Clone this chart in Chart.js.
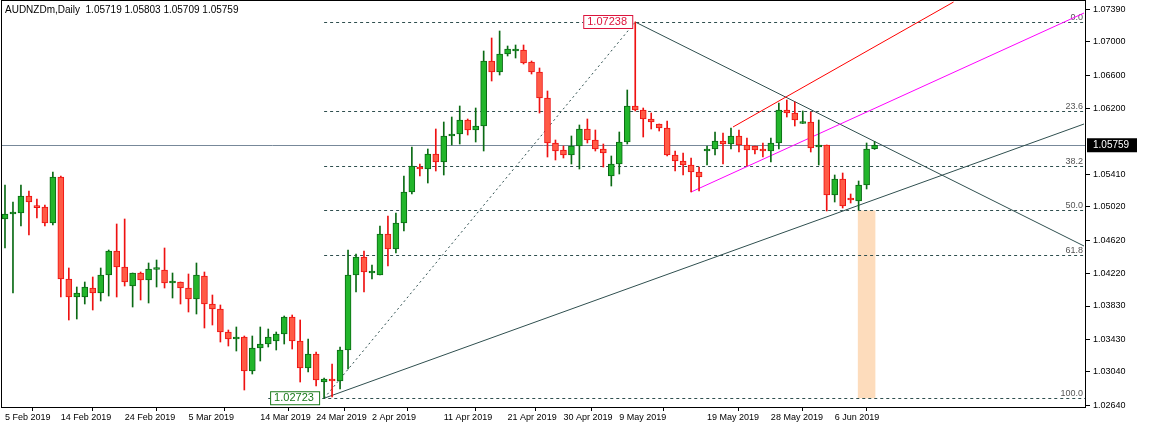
<!DOCTYPE html>
<html><head><meta charset="utf-8">
<script src="https://cdn.jsdelivr.net/npm/chart.js@4"></script>
<style>html,body{margin:0;padding:0;background:#fff}#wrap{width:1157px;height:430px}</style>
</head><body><div id="wrap"><canvas id="c"></canvas></div>
<script>
// OHLC per daily bar
const opens=[1.04874,1.04934,1.04946,1.0515,1.05018,1.05018,1.04826,1.05378,1.04154,1.03938,1.03938,1.04046,1.03986,1.04202,1.0449,1.04298,1.0407,1.04226,1.04142,1.04268,1.04262,1.04106,1.04118,1.04046,1.03914,1.0419,1.03854,1.03794,1.03518,1.03434,1.03458,1.0305,1.03326,1.03374,1.0341,1.03494,1.03698,1.0341,1.03086,1.03254,1.02918,1.02954,1.0293,1.03302,1.04202,1.04418,1.04226,1.04202,1.04694,1.04514,1.04826,1.05198,1.05498,1.05474,1.05654,1.05558,1.0587,1.05894,1.06062,1.05942,1.0599,1.0677,1.06638,1.06854,1.0689,1.06902,1.06758,1.06638,1.06326,1.05786,1.05702,1.05642,1.0575,1.05954,1.05822,1.05714,1.0539,1.05534,1.05798,1.0623,1.06182,1.06074,1.06014,1.05966,1.05642,1.0557,1.05522,1.05438,1.0569,1.05714,1.0581,1.05774,1.0587,1.05762,1.0575,1.05696,1.0569,1.05786,1.06182,1.06146,1.0602,1.06038,1.05738,1.05762,1.05162,1.05354,1.05108,1.0509,1.05282,1.05719];
const highs=[1.05282,1.05078,1.05282,1.0521,1.05114,1.05042,1.05438,1.0539,1.04286,1.04058,1.04118,1.04178,1.04286,1.04502,1.04814,1.04874,1.04226,1.04238,1.04346,1.04382,1.04526,1.04226,1.04118,1.04214,1.04346,1.04238,1.03962,1.03842,1.03542,1.03578,1.0347,1.0347,1.03578,1.03554,1.03518,1.0371,1.03722,1.03662,1.03434,1.03278,1.02966,1.03134,1.03338,1.04502,1.04454,1.0449,1.04322,1.0479,1.0491,1.04946,1.0539,1.05738,1.05534,1.05714,1.05954,1.06038,1.06098,1.0623,1.06074,1.06206,1.0689,1.07046,1.0713,1.0695,1.06962,1.06962,1.0677,1.06686,1.0641,1.05822,1.0575,1.0587,1.06002,1.06074,1.05942,1.05774,1.0563,1.05918,1.06422,1.07238,1.06206,1.06146,1.06014,1.0605,1.0569,1.05666,1.05606,1.05498,1.0575,1.05918,1.05906,1.05966,1.05942,1.05846,1.0575,1.05786,1.05846,1.06266,1.06302,1.06278,1.0617,1.06158,1.06062,1.05762,1.05402,1.05426,1.05174,1.0533,1.05786,1.05803];
const lows=[1.04526,1.03986,1.0479,1.04682,1.04886,1.0479,1.04802,1.03938,1.03662,1.03674,1.03854,1.03782,1.0389,1.0395,1.03938,1.0407,1.03818,1.03902,1.03866,1.04058,1.04046,1.03926,1.03854,1.03758,1.03734,1.03566,1.03602,1.03398,1.0335,1.0329,1.02822,1.03014,1.0317,1.03338,1.03302,1.03374,1.03314,1.02918,1.03038,1.0287,1.02723,1.02738,1.02834,1.03074,1.03998,1.03998,1.04154,1.04202,1.0431,1.04466,1.0473,1.05174,1.0539,1.05306,1.0545,1.05402,1.05762,1.05774,1.05882,1.05798,1.0569,1.0653,1.06602,1.0683,1.06806,1.06734,1.06614,1.06146,1.05618,1.05582,1.05606,1.05534,1.05474,1.05786,1.0569,1.05498,1.0527,1.05414,1.05774,1.0617,1.05858,1.05954,1.0593,1.0563,1.0545,1.05402,1.05198,1.0521,1.05522,1.05642,1.05534,1.05714,1.05678,1.0551,1.05654,1.05618,1.05558,1.05714,1.06098,1.0599,1.0602,1.05678,1.05522,1.0497,1.05078,1.05006,1.05066,1.04982,1.05234,1.05709];
const closes=[1.04934,1.04958,1.0515,1.05078,1.0501,1.04826,1.05378,1.04154,1.03938,1.03986,1.04058,1.03986,1.04202,1.0449,1.04298,1.04118,1.04226,1.04142,1.04274,1.04274,1.04106,1.04112,1.04046,1.03914,1.04202,1.03854,1.03794,1.03518,1.03434,1.03446,1.0305,1.03326,1.03374,1.03458,1.03494,1.03698,1.0341,1.03086,1.03254,1.02942,1.02954,1.0293,1.03302,1.04202,1.04418,1.04238,1.04238,1.04694,1.04514,1.04826,1.05198,1.0551,1.05474,1.05654,1.05558,1.0587,1.05894,1.06062,1.05942,1.0599,1.0677,1.06638,1.06854,1.06914,1.06896,1.06746,1.06638,1.06326,1.05786,1.0569,1.05642,1.0575,1.05954,1.05822,1.05714,1.05666,1.05534,1.05798,1.0623,1.06182,1.06074,1.06038,1.05966,1.05642,1.0557,1.05522,1.05438,1.05378,1.05714,1.0581,1.05774,1.0587,1.05762,1.05702,1.05702,1.0569,1.05786,1.06182,1.06146,1.06062,1.06026,1.05726,1.05762,1.05162,1.05354,1.0503,1.05102,1.05282,1.05714,1.05759];
const totalSlots=136;
const dateTickBars=[0,7,15,23,32,39,46,55,63,70,77,88,96,104];
const dateTickLabels=["5 Feb 2019","14 Feb 2019","24 Feb 2019","5 Mar 2019","14 Mar 2019","24 Mar 2019","2 Apr 2019","11 Apr 2019","21 Apr 2019","30 Apr 2019","9 May 2019","19 May 2019","28 May 2019","6 Jun 2019"];
const priceTicks=[1.07390,1.07000,1.06600,1.06200,1.05410,1.05020,1.04620,1.04220,1.03830,1.03430,1.03040,1.02640];
const fibHigh=1.07238, fibLow=1.02723, fibLevels=[0,23.6,38.2,50,61.8,100];
const currentPrice=1.05759;
const trendDown=[[79,1.07238],[135.25,1.0455]];
const trendUp=[[40,1.02723],[135.25,1.06014]];
const redChannel=[[91.25,1.05978],[118.9,1.07478]];
const magentaLine=[[86,1.05198],[135.25,1.07346]];
const zoneRect=[106.9,109.1,1.04976,1.02723];

const idx=[...Array(totalSlots).keys()];
const up=i=>closes[i]>=opens[i];
const wicks=idx.map(i=>i<opens.length?[lows[i],highs[i]]:null);
const bodies=idx.map(i=>i<opens.length?[opens[i],closes[i]]:null);
const GF='#22b52b',GB='#0a6a14',RF='#ff5a45',RB='#ee1111';
const F='"Liberation Sans", Arial, sans-serif';

const overlay={id:'ov',
 beforeDatasetsDraw(ch){const c=ch.ctx,x=ch.scales.x,y=ch.scales.y,a=ch.chartArea;
  c.save();c.beginPath();c.rect(a.left,a.top,a.right-a.left,a.bottom-a.top);c.clip();
  c.fillStyle='#fddcbc';const x1=x.getPixelForValue(zoneRect[0]),x2=x.getPixelForValue(zoneRect[1]);
  const y1=y.getPixelForValue(zoneRect[2]),y2=y.getPixelForValue(zoneRect[3]);c.fillRect(x1,y1,x2-x1,y2-y1);
  c.strokeStyle='#2f4f4f';c.lineWidth=1;c.setLineDash([3,3]);c.font='9px '+F;c.fillStyle='#555';c.textAlign='right';
  fibLevels.forEach(l=>{const p=fibHigh-(fibHigh-fibLow)*l/100;const py=Math.round(y.getPixelForValue(p))+0.5;
   c.beginPath();c.moveTo(x.getPixelForValue(l===100?33:40),py);c.lineTo(a.right,py);c.stroke();
   c.fillText(l.toFixed(1),a.right-3,py-3);});
  c.setLineDash([2,3]);c.beginPath();c.moveTo(x.getPixelForValue(40),y.getPixelForValue(fibLow));c.lineTo(x.getPixelForValue(79),y.getPixelForValue(fibHigh));c.stroke();
  c.setLineDash([]);
  c.strokeStyle='#778899';const cy=Math.round(y.getPixelForValue(currentPrice))+0.5;c.beginPath();c.moveTo(a.left,cy);c.lineTo(a.right,cy);c.stroke();
  const ln=(pts,col)=>{c.strokeStyle=col;c.beginPath();c.moveTo(x.getPixelForValue(pts[0][0]),y.getPixelForValue(pts[0][1]));c.lineTo(x.getPixelForValue(pts[1][0]),y.getPixelForValue(pts[1][1]));c.stroke();};
  ln(trendDown,'#2f4f4f');ln(trendUp,'#2f4f4f');ln(redChannel,'#ff0000');ln(magentaLine,'#ff00ff');
  c.restore();},
 afterDatasetsDraw(ch){const c=ch.ctx,x=ch.scales.x,y=ch.scales.y,a=ch.chartArea;c.save();
  c.font='11px '+F;c.textBaseline='middle';
  let px=x.getPixelForValue(79),py=y.getPixelForValue(fibHigh);
  c.fillStyle='#fff';c.fillRect(px-52,py-7,50,14);c.strokeStyle='#dc143c';c.strokeRect(px-51.5,py-6.5,49,13);
  c.fillStyle='#dc143c';c.textAlign='left';c.fillText(fibHigh.toFixed(5),px-48,py);
  px=x.getPixelForValue(40);py=y.getPixelForValue(fibLow);
  c.fillStyle='#fff';c.fillRect(px-54,py-7,50,14);c.strokeStyle='#1a7a1a';c.strokeRect(px-53.5,py-6.5,49,13);
  c.fillStyle='#1a7a1a';c.fillText(fibLow.toFixed(5),px-50,py);
  c.strokeStyle='#000';c.lineWidth=1;c.strokeRect(a.left+0.5,a.top+0.5,a.right-a.left-1,a.bottom-a.top-1);
  c.fillStyle='#000';c.font='10px '+F;c.fillText('AUDNZDm,Daily  1.05719 1.05803 1.05709 1.05759',5,10);
  const cy=y.getPixelForValue(currentPrice);c.fillStyle='#000';c.fillRect(a.right+1,cy-7,50,14);
  c.fillStyle='#fff';c.textAlign='left';c.fillText(currentPrice.toFixed(5),a.right+7,cy);
  c.restore();}};

new Chart(document.getElementById('c'),{type:'bar',
 data:{labels:idx.map(String),datasets:[
  {data:wicks,backgroundColor:idx.map(i=>up(i)?GB:RB),barThickness:1,grouped:false,order:2},
  {data:bodies,backgroundColor:idx.map(i=>up(i)?GF:RF),borderColor:idx.map(i=>up(i)?GB:RB),borderWidth:1,borderSkipped:false,barThickness:6,minBarLength:2,grouped:false,order:1}]},
 options:{animation:false,responsive:true,maintainAspectRatio:false,devicePixelRatio:1,
  layout:{padding:{left:1,top:0,right:0,bottom:0}},
  plugins:{legend:{display:false},tooltip:{enabled:false}},
  scales:{
   x:{offset:true,grid:{display:true,drawOnChartArea:false,tickLength:3,color:'#000'},border:{display:false},
    afterBuildTicks:s=>{s.ticks=dateTickBars.map(v=>({value:v}));},
    afterFit:s=>{s.height=22;s.paddingLeft=0;s.paddingRight=0;},
    ticks:{autoSkip:false,maxRotation:0,align:'start',padding:1,color:'#000',font:{size:9,family:F},
     callback:(v)=>{const k=dateTickBars.indexOf(v);return k>=0?dateTickLabels[k]:'';}}},
   y:{position:'right',min:1.02606,max:1.07502,grid:{display:true,drawOnChartArea:false,tickLength:4,color:'#000'},border:{display:false},
    afterBuildTicks:s=>{s.ticks=priceTicks.map(v=>({value:v}));},
    afterFit:s=>{s.width=71;s.paddingTop=0;s.paddingBottom=0;},
    ticks:{padding:3,color:'#000',font:{size:9,family:F},callback:v=>v.toFixed(5)}}}},
 plugins:[overlay]});
</script></body></html>
